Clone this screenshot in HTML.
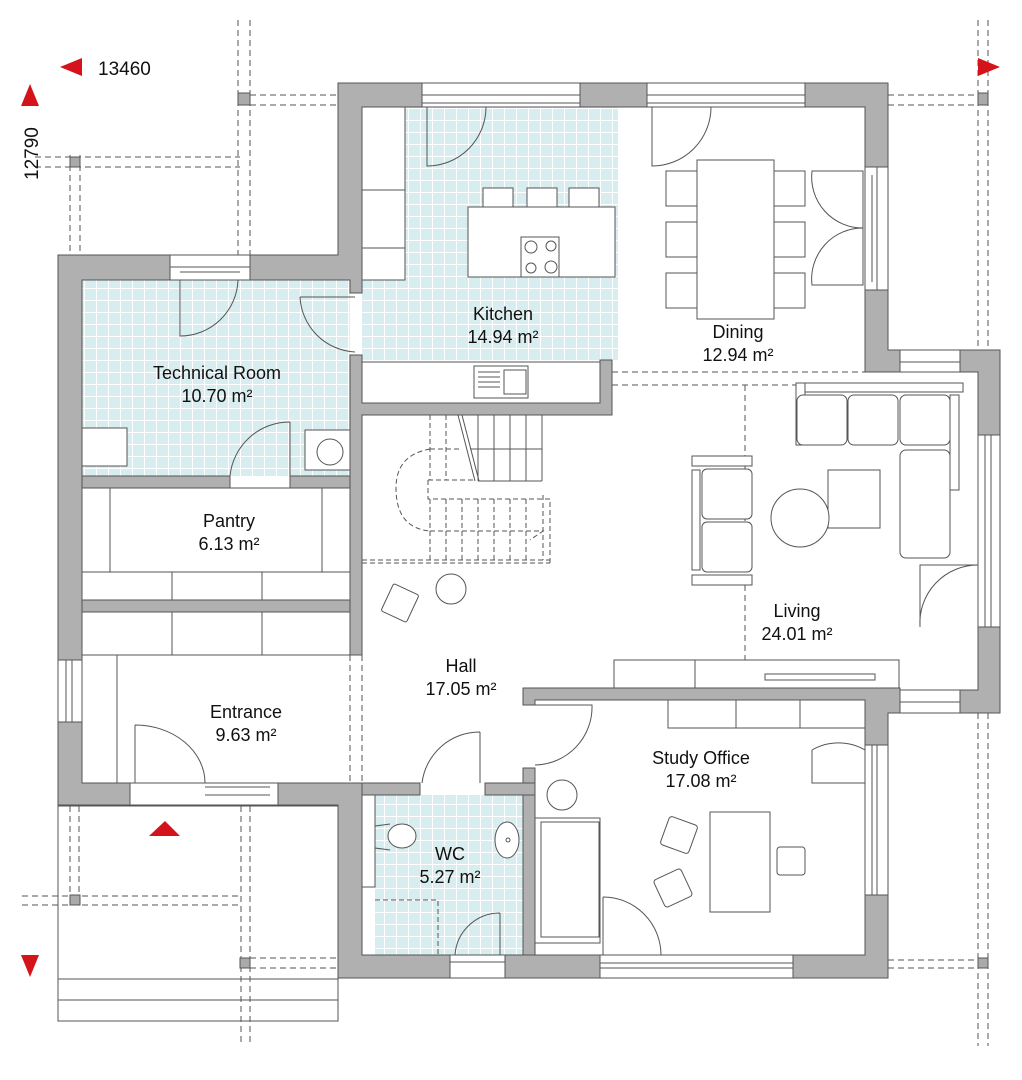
<!DOCTYPE html>
<html><head><meta charset="utf-8"><style>
html,body{margin:0;padding:0;background:#fff}
svg{display:block}
text{font-family:"Liberation Sans",sans-serif;fill:#111}
</style></head><body>
<svg width="1022" height="1080" viewBox="0 0 1022 1080" xmlns="http://www.w3.org/2000/svg">
<defs>
<pattern id="tile" width="12" height="12" patternUnits="userSpaceOnUse">
<rect width="12" height="12" fill="#d7edf0"/>
<path d="M0 0.5H12M0.5 0V12" stroke="#fff" stroke-width="1"/>
</pattern>
</defs>
<g fill="url(#tile)">
<rect x="405" y="107" width="213" height="253"/>
<rect x="362" y="280" width="43" height="80"/>
<rect x="82" y="280" width="268" height="196"/>
<rect x="375" y="795" width="148" height="160"/>
</g>
<rect x="58" y="806" width="280" height="215" fill="none" stroke="#555" stroke-width="1"/>
<path d="M58 979H338M58 1000H338" stroke="#555" stroke-width="1"/>
<g stroke="#555" stroke-width="1" stroke-dasharray="6,4" fill="none">
<path d="M238 20V255M250 20V255"/>
<path d="M241 806V1046M250 806V1046"/>
<path d="M978 20V350M988 20V350M978 713V1046M988 713V1046"/>
<path d="M70 155V255M80 155V255M70 806V905M79 806V905"/>
<path d="M250 95H338M250 105H338M888 95H980M888 105H980"/>
<path d="M35 157H240M35 167H240"/>
<path d="M22 896H240M22 905H240"/>
<path d="M250 958H338M250 968H338M888 960H980M888 968H980"/>
<path d="M350 655V783M362 655V783"/>
<path d="M612 372H865M612 385H865M745 385V688"/>
</g>
<g fill="#aaa" stroke="#555" stroke-width="1">
<rect x="238" y="93" width="12" height="12"/>
<rect x="978" y="93" width="10" height="12"/>
<rect x="70" y="157" width="10" height="10"/>
<rect x="70" y="895" width="10" height="10"/>
<rect x="240" y="958" width="10" height="10"/>
<rect x="978" y="958" width="10" height="10"/>
</g>
<g fill="#fff" stroke="#555" stroke-width="1">
<rect x="422" y="83" width="158" height="24"/><path d="M422 95H580M422 103H580"/>
<rect x="647" y="83" width="158" height="24"/><path d="M647 95H805M647 103H805"/>
<rect x="170" y="255" width="80" height="25"/><path d="M170 267H250M180 272H240"/>
<rect x="865" y="167" width="23" height="123"/><path d="M877 167V290M872 175V282"/>
<rect x="900" y="350" width="60" height="22"/><path d="M900 362H960"/>
<rect x="978" y="435" width="22" height="192"/><path d="M985 435V627M991 435V627"/>
<rect x="900" y="690" width="60" height="23"/><path d="M900 702H960"/>
<rect x="865" y="745" width="23" height="150"/><path d="M877 745V895M872 745V895"/>
<rect x="600" y="955" width="193" height="23"/><path d="M600 963H793M600 968H793"/>
<rect x="450" y="955" width="55" height="23"/><path d="M450 962H505"/>
<rect x="58" y="660" width="24" height="62"/><path d="M66 660V722M72 660V722"/>
<rect x="130" y="783" width="148" height="22"/><path d="M205 787H270M205 795H270"/>
</g>
<g fill="#b0b0b0" stroke="#555" stroke-width="1">
<path d="M338 83H422V107H362V293H350V280H250V255H338Z"/>
<rect x="580" y="83" width="67" height="24"/>
<path d="M805 83H888V167H865V107H805Z"/>
<path d="M865 290H888V350H900V372H865Z"/>
<path d="M960 350H1000V435H978V372H960Z"/>
<path d="M978 627H1000V713H960V690H978Z"/>
<path d="M58 255H170V280H82V660H58Z"/>
<path d="M58 722H82V783H130V805H58Z"/>
<path d="M278 783H362V955H450V978H338V805H278Z"/>
<rect x="505" y="955" width="95" height="23"/>
<path d="M793 955H865V895H888V978H793Z"/>
<path d="M865 688H900V713H888V745H865V700H535V705H523V688Z"/>
<path d="M523 768H535V955H523Z"/>
<path d="M362 783H420V795H362Z"/>
<path d="M485 783H535V795H485Z"/>
<path d="M350 355H362V403H600V360H612V415H362V655H350Z"/>
<path d="M82 476H230V488H82Z"/>
<path d="M290 476H350V488H290Z"/>
<path d="M82 600H350V612H82Z"/>
</g>
<g fill="#fff" stroke="#555" stroke-width="1">
<rect x="362" y="107" width="43" height="173"/><path d="M362 190H405M362 248H405"/>
<rect x="468" y="207" width="147" height="70"/>
<rect x="483" y="188" width="30" height="19"/><rect x="527" y="188" width="30" height="19"/><rect x="569" y="188" width="30" height="19"/>
<rect x="521" y="237" width="38" height="40"/>
<circle cx="531" cy="247" r="6"/><circle cx="551" cy="246" r="5"/><circle cx="531" cy="268" r="5"/><circle cx="551" cy="267" r="6"/>
<rect x="362" y="362" width="238" height="41"/>
<rect x="474" y="366" width="54" height="32"/><rect x="504" y="370" width="22" height="24"/>
<path d="M478 372H500M478 377H500M478 382H500M478 387H500"/>
<rect x="697" y="160" width="77" height="159"/>
<rect x="666" y="171" width="31" height="35"/><rect x="666" y="222" width="31" height="35"/><rect x="666" y="273" width="31" height="35"/>
<rect x="774" y="171" width="31" height="35"/><rect x="774" y="222" width="31" height="35"/><rect x="774" y="273" width="31" height="35"/>
<rect x="82" y="428" width="45" height="38"/>
<rect x="305" y="430" width="45" height="40"/><circle cx="330" cy="452" r="13"/>
<rect x="82" y="488" width="268" height="112"/><path d="M110 488V572M82 572H350M172 572V600M262 572V600M322 488V572"/>
<rect x="82" y="612" width="268" height="43"/><path d="M172 612V655M262 612V655"/>
<path d="M117 655V783"/>
<rect x="362" y="795" width="13" height="92"/>
<ellipse cx="402" cy="836" rx="14" ry="12"/><path d="M375 826L390 824M375 848L390 850"/>
<ellipse cx="507" cy="840" rx="12" ry="18"/><circle cx="508" cy="840" r="2"/>
<rect x="796" y="383" width="9" height="62"/><rect x="805" y="383" width="158" height="9"/>
<rect x="797" y="395" width="50" height="50" rx="6"/><rect x="848" y="395" width="50" height="50" rx="6"/><rect x="900" y="395" width="50" height="50" rx="6"/>
<rect x="950" y="395" width="9" height="95"/>
<rect x="900" y="450" width="50" height="108" rx="6"/>
<rect x="828" y="470" width="52" height="58"/>
<ellipse cx="800" cy="518" rx="29" ry="29"/>
<rect x="692" y="456" width="60" height="10"/><rect x="692" y="575" width="60" height="10"/>
<rect x="692" y="470" width="8" height="100"/>
<rect x="702" y="469" width="50" height="50" rx="5"/><rect x="702" y="522" width="50" height="50" rx="5"/>
<rect x="614" y="660" width="285" height="28"/><path d="M695 660V688"/><rect x="765" y="674" width="110" height="6"/>
<rect x="668" y="700" width="197" height="28"/><path d="M736 700V728M800 700V728"/>
<rect x="710" y="812" width="60" height="100"/>
<rect x="535" y="818" width="65" height="125"/><rect x="541" y="822" width="58" height="115"/>
<circle cx="562" cy="795" r="15"/>
<rect x="777" y="847" width="28" height="28" rx="3"/>
<rect x="664" y="820" width="30" height="30" rx="3" transform="rotate(20 679 835)"/>
<rect x="658" y="873" width="30" height="30" rx="3" transform="rotate(-25 673 888)"/>
<circle cx="451" cy="589" r="15"/>
<rect x="386" y="588" width="28" height="30" rx="2" transform="rotate(25 400 603)"/>
</g>
<g fill="none" stroke="#555" stroke-width="1">
<path d="M458 415L475 481M462 415L479 481M478 481H542M478 415V481M494 415V481M510 415V481M526 415V481M542 415V481M470 449H542"/>
</g>
<g fill="none" stroke="#555" stroke-width="1" stroke-dasharray="5,3">
<path d="M430 415V480M446 415V480M430 449H460M430 449Q396 455 396 488Q396 528 430 531M428 480H475M428 480V499H550V563M430 499V560M446 499V560M462 499V560M478 499V560M494 499V560M510 499V560M526 499V560M543 495V560M430 531H543L530 540M362 560H550M362 563H550"/>
<path d="M375 900H438V955"/>
</g>
<g fill="none" stroke="#555" stroke-width="1">
<path d="M427 107V166A59 59 0 0 0 486 107"/>
<path d="M652 107V166A59 59 0 0 0 711 107"/>
<path d="M180 280V336A58 58 0 0 0 238 280"/>
<path d="M300 297A58 58 0 0 0 355 352M300 297H355"/>
<path d="M812 171H863V228A51 51 0 0 1 812 171Z"/>
<path d="M812 285H863V228A51 51 0 0 0 812 285Z"/>
<path d="M290 422V476M290 422A60 60 0 0 0 230 476"/>
<path d="M920 627V565H978A58 58 0 0 0 920 627"/>
<path d="M135 725V783M135 725A70 58 0 0 1 205 783"/>
<path d="M480 732V783M480 732A58 58 0 0 0 422 783"/>
<path d="M535 705H592A58 58 0 0 1 535 765"/>
<path d="M812 750V783H865V750A53 53 0 0 0 812 750"/>
<path d="M603 897V955M603 897A58 58 0 0 1 661 955"/>
<path d="M500 913V955M500 913A45 45 0 0 0 455 955"/>
</g>
<g fill="#d4141a">
<path d="M60 67L82 58V76Z"/>
<path d="M1000 67L978 58V76Z"/>
<path d="M30 84L21 106H39Z"/>
<path d="M30 977L21 955H39Z"/>
<path d="M165 821L149 836H180Z"/>
</g>
<text x="98" y="75" font-size="19">13460</text>
<text transform="translate(38,180) rotate(-90)" font-size="19">12790</text>
<g font-size="18" text-anchor="middle">
<text x="503" y="320">Kitchen</text><text x="503" y="343">14.94 m²</text>
<text x="738" y="338">Dining</text><text x="738" y="361">12.94 m²</text>
<text x="217" y="379">Technical Room</text><text x="217" y="402">10.70 m²</text>
<text x="229" y="527">Pantry</text><text x="229" y="550">6.13 m²</text>
<text x="797" y="617">Living</text><text x="797" y="640">24.01 m²</text>
<text x="461" y="672">Hall</text><text x="461" y="695">17.05 m²</text>
<text x="246" y="718">Entrance</text><text x="246" y="741">9.63 m²</text>
<text x="701" y="764">Study Office</text><text x="701" y="787">17.08 m²</text>
<text x="450" y="860">WC</text><text x="450" y="883">5.27 m²</text>
</g>
</svg>
</body></html>
